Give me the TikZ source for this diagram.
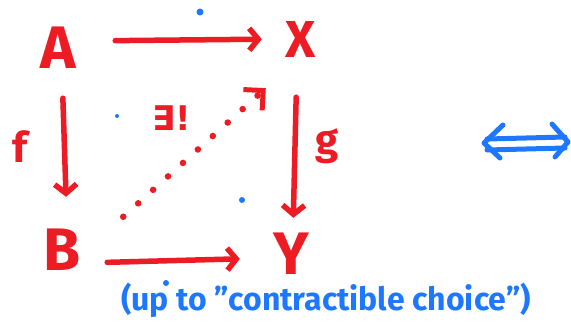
\documentclass[tikz,border=0pt]{standalone}
\usepackage{fontspec}
\setmainfont{Fira Sans}
\newfontfamily\symfont{DejaVu Sans}
\usetikzlibrary{arrows.meta}
\definecolor{inkred}{RGB}{237,28,36}
\definecolor{inkblue}{RGB}{30,120,255}
\begin{document}
\begin{tikzpicture}[x=1pt,y=-1pt,
  obj/.style={text=inkred, font=\bfseries\fontsize{60}{60}\selectfont, inner sep=0pt,
    minimum width=40pt, minimum height=46pt},
  lbl/.style={text=inkred, font=\bfseries\fontsize{42}{42}\selectfont, inner sep=0pt},
  map/.style={draw=inkred, line width=5.5pt, line cap=round,
    -{Straight Barb[length=9pt,width=22pt]}},
  dotted map/.style={draw=inkred, line width=6.5pt, line cap=round,
    dash pattern=on 0.1pt off 20pt,
    -{Straight Barb[length=14pt,width=28pt,line width=5pt]}},
  note/.style={text=inkblue, font=\bfseries\fontsize{32}{32}\selectfont, inner sep=0pt},
  eqv/.style={draw=inkblue, line width=5pt, line cap=round, line join=round},
  speck/.style={fill=inkblue}]
\useasboundingbox (0,0) rectangle (571,327);
% objects
\node[obj] (A) at (58,48) {A};
\node[obj, font=\bfseries\fontsize{52}{52}\selectfont] (X) at (301,39) {X};
\node[obj] (B) at (62,250) {B};
\node[obj] (Y) at (291,254) {Y};
% labels
\node[lbl] (f) at (20,147) {f};
\node[lbl] (g) at (327,146) {g};
\node[text=inkred, font=\symfont\bfseries\fontsize{34}{34}\selectfont, inner sep=0pt] (E) at (172,118) {∃!};
% arrows
\draw[map, shorten <=37pt, shorten >=19pt] ([yshift=7pt]A.east) -- (X.west);
\draw[map, shorten <=27pt, shorten >=30pt] ([xshift=4pt]A.south) -- ([xshift=5pt]B.north);
\draw[map, shorten <=35pt, shorten >=13pt] ([xshift=-4pt]X.south) -- ([xshift=2pt]Y.north);
\draw[map, shorten <=25pt, shorten >=31pt] ([yshift=-13pt]B.east) -- ([yshift=-4pt]Y.west);
\draw[dotted map] ([xshift=41pt,yshift=10pt]B.north east) -- ([xshift=-15pt,yshift=-26pt]X.south west);
% equivalence (drawn shape)
\draw[eqv] (487,139) -- (565,137);
\draw[eqv] (487,150) -- (565,148);
\draw[eqv] (503,125) -- (484,143) -- (500,158);
\draw[eqv] (552,124) -- (568,142) -- (555,157);
% note
\node[note] (N) at (326,300) {(up to "contractible choice")};
% stray specks
\fill[speck] (200,12) circle (3.5);
\fill[speck] (117,116) circle (2);
\fill[speck] (242,200) circle (3);
\fill[speck] (166,283) circle (3);
\end{tikzpicture}
\end{document}
